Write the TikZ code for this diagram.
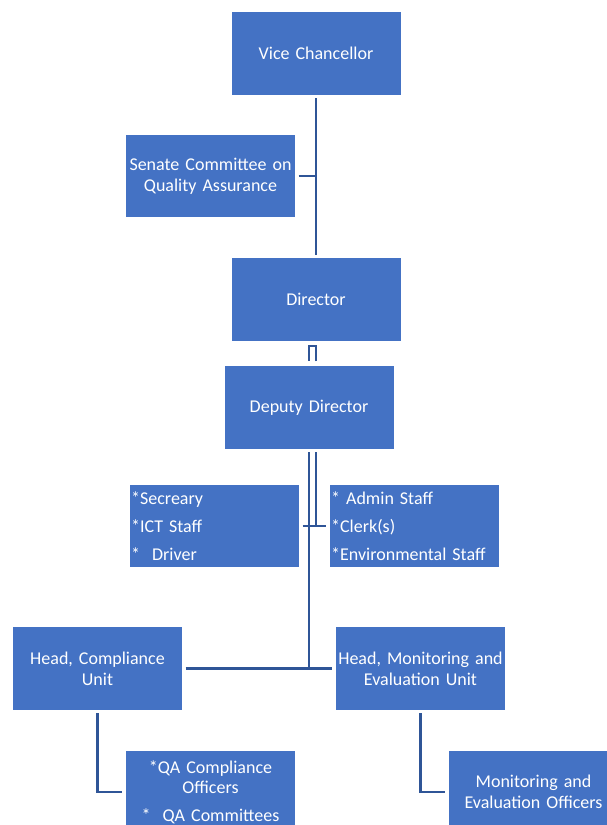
\documentclass[tikz,border=0pt]{standalone}
\usepackage{fontspec}
\setmainfont{Carlito}
\usetikzlibrary{positioning}

\definecolor{boxblue}{HTML}{4472C4}
\definecolor{lineblue}{HTML}{2F5597}

\tikzstyle{unit} = [rectangle, minimum width=127.5pt, minimum height=62.5pt, text width=124pt, align=center, inner sep=1pt, draw=white, line width=0.75pt, fill=boxblue, text=white, font=\fontsize{13.5}{15.5}\selectfont]
\tikzstyle{staff} = [unit, align=left, text width=125pt, font=\fontsize{13.5}{21}\selectfont]
\tikzstyle{link} = [lineblue, line width=1.75pt]

\begin{document}
\begin{tikzpicture}[x=0.75pt, y=-0.75pt]
		\useasboundingbox (0,0) rectangle (607,825);
		\clip (0,0) rectangle (607,825);
		\node (vc) [unit] at (316,53.5) {Vice Chancellor};
		\node (senate) [unit] at (210.5,176) {Senate Committee on\\Quality Assurance};
		\node (director) [unit] at (316,299.5) {Director};
		\node (deputy) [unit] at (309,407.5) {Deputy Director};
		
		\node (staffl) [staff] at (214.5,526) {*Secreary\\\relax *ICT Staff\\\relax *\ \ Driver};
		\node (staffr) [staff] at (414.5,526) {*\ Admin Staff\\\relax *Clerk(s)\\\relax *Environmental Staff};
		
		\node (headc) [unit] at (97.5,668.5) {Head, Compliance\\Unit};
		\node (headme) [unit] at (420.5,668.5) {Head, Monitoring and\\Evaluation Unit};
		\node (qac) [unit] at (210.5,792) {*QA Compliance\\Officers\\[5pt]*\ \ QA Committees};
		\node (meo) [unit] at (533.5,792) {Monitoring and\\Evaluation Officers};
		
		\draw [link] ([yshift=-2pt]vc.south) -- ([yshift=2pt]director.north);
		\draw [link] ([xshift=2pt]senate.east) -- (senate.east -| vc.south);
		\draw [link] ([yshift=3pt]deputy.north -| director.south) -- ([yshift=-3pt]director.south) -| ([yshift=3pt]deputy.north);
		\draw [link] ([yshift=-2pt]deputy.south) -- (deputy.south |- headc.east);
		\draw [link] ([xshift=5.25pt,yshift=-2pt]deputy.south) -- ([xshift=5.25pt]deputy.south |- staffr.west);
		\draw [link] ([xshift=2pt]staffl.east) -- ([xshift=-2pt]staffr.west);
		\draw [link] ([xshift=2pt]headc.east) -- ([xshift=-2pt]headme.west);
		\draw [link] ([yshift=-2pt]headc.south) |- ([xshift=-2pt]qac.west);
		\draw [link] ([yshift=-2pt]headme.south) |- ([xshift=-2pt]meo.west);
	
	\end{tikzpicture}
\end{document}
